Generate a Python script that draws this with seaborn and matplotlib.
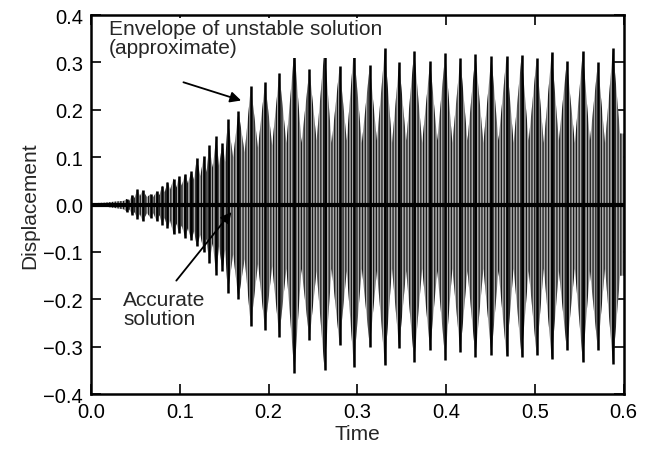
import numpy as np
import pandas as pd
import seaborn as sns
import matplotlib
matplotlib.use('Agg')
import matplotlib.pyplot as plt

# spikes of the unstable solution (time, top, bottom)
spike_t = [0.040, 0.046, 0.052, 0.058, 0.067, 0.074, 0.080, 0.086, 0.093, 0.099,
           0.106, 0.113, 0.119, 0.127, 0.133, 0.141, 0.148, 0.154, 0.166, 0.180,
           0.196, 0.212, 0.229, 0.246, 0.263, 0.280, 0.296, 0.314, 0.331, 0.347,
           0.364, 0.382, 0.399, 0.416, 0.433, 0.451, 0.468, 0.485, 0.502, 0.519,
           0.536, 0.554, 0.571, 0.588]
spike_hi = [0.012, 0.020, 0.032, 0.030, 0.022, 0.028, 0.040, 0.048, 0.055, 0.060,
            0.065, 0.070, 0.099, 0.103, 0.125, 0.144, 0.130, 0.180, 0.197, 0.250,
            0.258, 0.278, 0.328, 0.286, 0.330, 0.292, 0.328, 0.294, 0.330, 0.300,
            0.325, 0.303, 0.320, 0.310, 0.317, 0.313, 0.313, 0.315, 0.309, 0.322,
            0.303, 0.324, 0.300, 0.330]
spike_lo = [-0.015, -0.021, -0.030, -0.035, -0.028, -0.035, -0.042, -0.050, -0.063, -0.060,
            -0.070, -0.075, -0.088, -0.100, -0.123, -0.148, -0.140, -0.187, -0.200, -0.257,
            -0.265, -0.279, -0.356, -0.286, -0.349, -0.296, -0.342, -0.300, -0.339, -0.303,
            -0.332, -0.307, -0.328, -0.312, -0.321, -0.318, -0.320, -0.321, -0.318, -0.326,
            -0.307, -0.332, -0.307, -0.336]

# lowest envelope level between the spikes
trough_t = [0.043, 0.049, 0.055, 0.063, 0.070, 0.077, 0.083, 0.089, 0.096, 0.102,
            0.109, 0.116, 0.123, 0.130, 0.137, 0.144, 0.151, 0.160, 0.173, 0.188,
            0.204, 0.220, 0.237, 0.254, 0.271, 0.288, 0.305, 0.322, 0.339, 0.355,
            0.373, 0.390, 0.407, 0.424, 0.442, 0.459, 0.476, 0.493, 0.510, 0.527,
            0.545, 0.562, 0.579]
trough_hi = [0.008, 0.014, 0.018, 0.016, 0.016, 0.020, 0.026, 0.032, 0.036, 0.040,
             0.045, 0.052, 0.060, 0.068, 0.078, 0.082, 0.090, 0.100, 0.110, 0.120,
             0.125, 0.130, 0.130, 0.135, 0.130, 0.135, 0.130, 0.135, 0.130, 0.135,
             0.130, 0.135, 0.130, 0.135, 0.130, 0.135, 0.130, 0.135, 0.130, 0.135,
             0.130, 0.135, 0.130]
trough_lo = [-0.010, -0.016, -0.020, -0.018, -0.018, -0.022, -0.028, -0.034, -0.040, -0.044,
             -0.050, -0.056, -0.064, -0.072, -0.082, -0.088, -0.095, -0.105, -0.115, -0.125,
             -0.130, -0.135, -0.135, -0.140, -0.135, -0.140, -0.135, -0.140, -0.135, -0.140,
             -0.135, -0.140, -0.135, -0.140, -0.135, -0.140, -0.135, -0.140, -0.135, -0.140,
             -0.135, -0.140, -0.135]

# quiet start and the end at the right edge
lead_t = [0.0, 0.015, 0.030, 0.037]
lead_hi = [0.003, 0.004, 0.007, 0.008]
lead_lo = [-0.003, -0.004, -0.008, -0.010]
tail_t = [0.596, 0.600]
tail_hi = [0.150, 0.150]
tail_lo = [-0.150, -0.150]

# accurate solution
accurate_t = [0.0, 0.6]
accurate_y = [0.0, 0.0]

env = pd.concat([
    pd.DataFrame({'t': lead_t, 'hi': lead_hi, 'lo': lead_lo}),
    pd.DataFrame({'t': spike_t, 'hi': spike_hi, 'lo': spike_lo}),
    pd.DataFrame({'t': trough_t, 'hi': trough_hi, 'lo': trough_lo}),
    pd.DataFrame({'t': tail_t, 'hi': tail_hi, 'lo': tail_lo}),
]).sort_values('t')

sns.set_style('ticks')
plt.rcParams['font.family'] = ['Liberation Sans', 'DejaVu Sans']
plt.rcParams['hatch.linewidth'] = 0.9
plt.rcParams['hatch.color'] = '#1a1a1a'
plt.rcParams['axes.unicode_minus'] = True

fig = plt.figure(figsize=(6.51, 4.60), dpi=100)
ax = fig.add_axes([0.140, 0.141, 0.818, 0.824])

ax.fill_between(env['t'], env['lo'], env['hi'], facecolor='#ababab',
                edgecolor='#1a1a1a', hatch='||||||', linewidth=0)
ax.vlines(spike_t, spike_lo, spike_hi, color='black', linewidth=1.8)
sns.lineplot(x=accurate_t, y=accurate_y, ax=ax, color='black', linewidth=3)

ax.set_xlim(0, 0.6)
ax.set_ylim(-0.4, 0.4)
ax.set_xticks([0.0, 0.1, 0.2, 0.3, 0.4, 0.5, 0.6])
ax.set_yticks([-0.4, -0.3, -0.2, -0.1, 0.0, 0.1, 0.2, 0.3, 0.4])
ax.tick_params(direction='in', length=7, width=1.2, top=True, right=True,
               labelsize=14.5, colors='black', pad=6)
for s in ax.spines.values():
    s.set_visible(True)
    s.set_linewidth(1.8)
    s.set_color('black')

ax.set_xlabel('Time', fontsize=15, labelpad=2)
ax.set_ylabel('Displacement', fontsize=15, labelpad=3)

ax.annotate('', xy=(0.172, 0.218), xytext=(0.101, 0.260),
            arrowprops=dict(arrowstyle='-|>', color='black', lw=1.3, mutation_scale=16))
ax.text(0.020, 0.392, 'Envelope of unstable solution\n(approximate)', fontsize=15,
        va='top', ha='left', linespacing=1.0,
        bbox=dict(facecolor='white', edgecolor='none', pad=0.5))
ax.annotate('', xy=(0.160, -0.011), xytext=(0.094, -0.165),
            arrowprops=dict(arrowstyle='-|>', color='black', lw=1.3, mutation_scale=16))
ax.text(0.036, -0.180, 'Accurate\nsolution', fontsize=15, va='top', ha='left',
        linespacing=1.0)

plt.savefig('out.png', dpi=100)
